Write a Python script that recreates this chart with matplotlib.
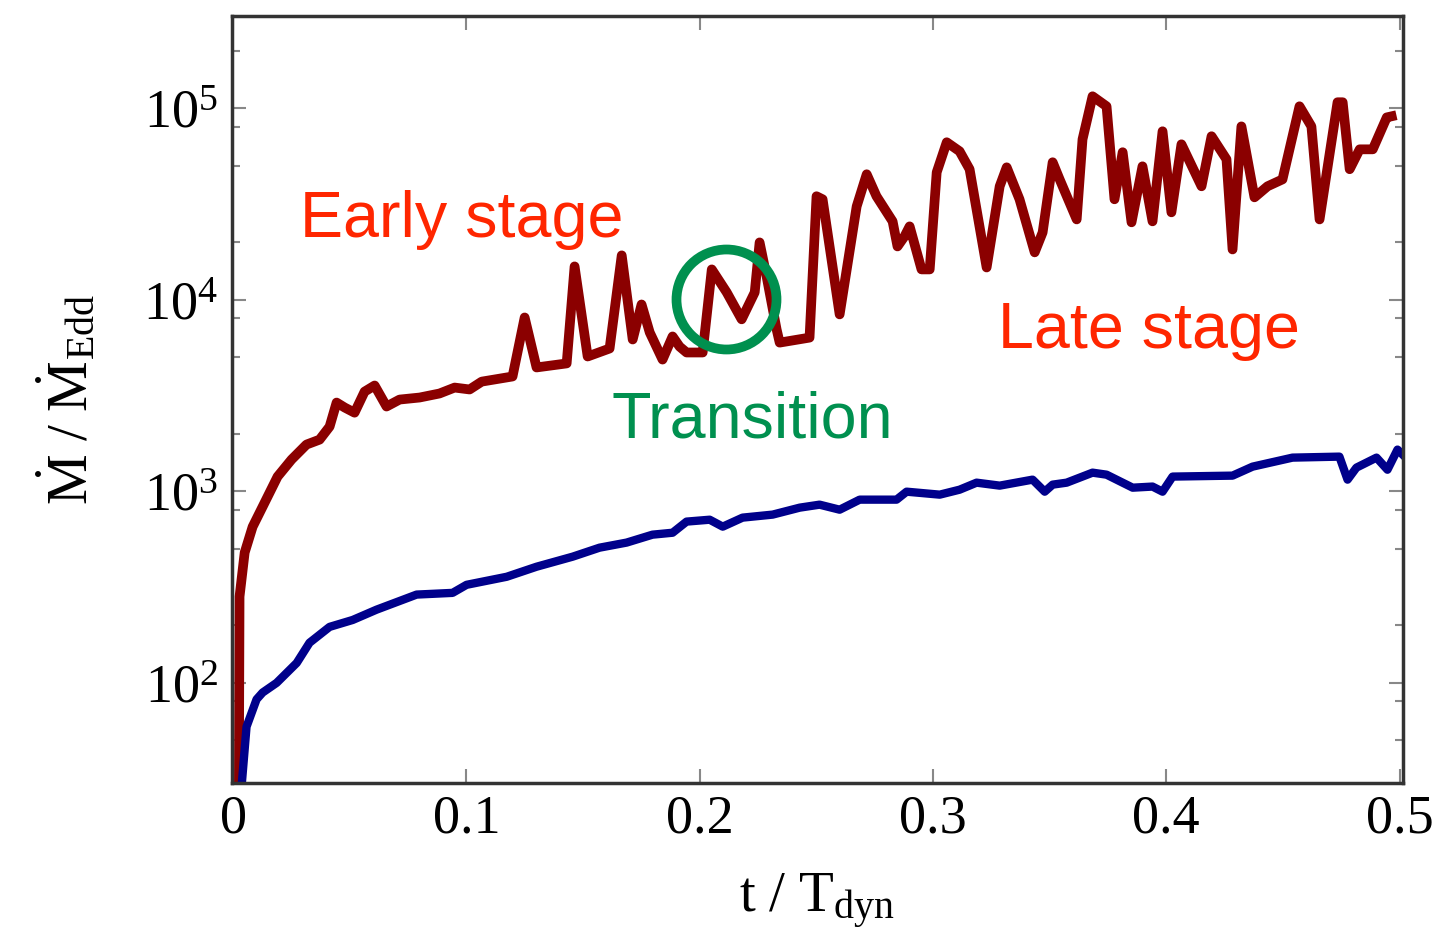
import matplotlib
matplotlib.use("Agg")
import matplotlib.pyplot as plt
from matplotlib.ticker import FixedLocator, FuncFormatter, LogLocator, NullFormatter
import numpy as np


# accretion rate, strong-feedback-free run (red)
T_RED = [0.0025, 0.0028, 0.0050, 0.0084, 0.0127, 0.0191, 0.0251, 0.0315, 0.0371, 0.0414,
         0.0444, 0.0479, 0.0521, 0.0564, 0.0607, 0.0658, 0.0714, 0.0800, 0.0885, 0.0950,
         0.1014, 0.1066, 0.1198, 0.1250, 0.1301, 0.1430, 0.1464, 0.1520, 0.1614, 0.1666,
         0.1713, 0.1751, 0.1786, 0.1841, 0.1884, 0.1914, 0.1944, 0.2013, 0.2052, 0.2116,
         0.2180, 0.2236, 0.2257, 0.2287, 0.2330, 0.2343, 0.2471, 0.2501, 0.2527, 0.2600,
         0.2673, 0.2716, 0.2758, 0.2827, 0.2848, 0.2878, 0.2900, 0.2951, 0.2986, 0.3016,
         0.3059, 0.3114, 0.3157, 0.3230, 0.3286, 0.3316, 0.3371, 0.3436, 0.3470, 0.3513,
         0.3543, 0.3616, 0.3641, 0.3684, 0.3744, 0.3778, 0.3813, 0.3851, 0.3898, 0.3941,
         0.3984, 0.4022, 0.4065, 0.4151, 0.4194, 0.4258, 0.4284, 0.4322, 0.4378, 0.4434,
         0.4498, 0.4571, 0.4622, 0.4657, 0.4734, 0.4756, 0.4786, 0.4829, 0.4885, 0.4945,
         0.4966]
MDOT_RED = [25, 282, 479, 653, 832, 1194, 1466, 1755, 1862, 2178,
            2908, 2738, 2575, 3318, 3570, 2773, 3015, 3090, 3243, 3483,
            3404, 3741, 3979, 8090, 4436, 4656, 14950, 5060, 5570, 17070,
            6209, 9460, 6760, 4877, 6440, 5700, 5310, 5310, 14420, 10940,
            7910, 10940, 19950, 13250, 7000, 5980, 6350, 34750, 33500, 8395,
            30760, 45260, 34750, 25700, 19010, 21440, 24190, 14420, 14420, 46340,
            66500, 59700, 48100, 14760, 39170, 49200, 33500, 17700, 22500, 52300,
            42560, 26300, 68900, 115600, 102500, 33500, 59000, 25400, 49800, 25700,
            75900, 28640, 64900, 39170, 71500, 54200, 18330, 80500, 34300, 39170,
            42560, 102500, 80500, 26300, 107600, 107600, 48100, 61100, 61100, 89700,
            90900]

# accretion rate, second run (blue)
T_BLUE = [0.0038, 0.0058, 0.0101, 0.0127, 0.0187, 0.0273, 0.0328, 0.0414, 0.0513, 0.0615,
          0.0787, 0.0941, 0.1001, 0.1173, 0.1301, 0.1456, 0.1571, 0.1687, 0.1798, 0.1884,
          0.1944, 0.2043, 0.2099, 0.2184, 0.2313, 0.2429, 0.2514, 0.2600, 0.2686, 0.2844,
          0.2887, 0.3029, 0.3114, 0.3187, 0.3286, 0.3427, 0.3479, 0.3513, 0.3573, 0.3684,
          0.3744, 0.3856, 0.3941, 0.3984, 0.4027, 0.4284, 0.4370, 0.4541, 0.4742, 0.4777,
          0.4815, 0.4901, 0.4948, 0.4991, 0.5013]
MDOT_BLUE = [30, 59, 82, 89, 100, 127, 162, 196, 213, 241,
             289, 295, 325, 358, 404, 456, 508, 540, 594, 608,
             695, 711, 654, 729, 756, 822, 852, 802, 905, 905,
             996, 961, 1020, 1110, 1071, 1151, 996, 1084, 1110, 1252,
             1222, 1045, 1059, 996, 1194, 1208, 1346, 1500, 1518, 1151,
             1330, 1500, 1297, 1652, 1556]

X_TICKS = [0, 0.1, 0.2, 0.3, 0.4, 0.5]
Y_MAJOR = [1e2, 1e3, 1e4, 1e5]

# transition marker position
TRANSITION_T = 0.2114
TRANSITION_MDOT = 10050

RED_LINE = "#8b0000"
BLUE_LINE = "#00008b"
RED_TEXT = "#ff2600"
GREEN_TEXT = "#00904f"


def setup_fonts() -> None:
    plt.rcParams["font.family"] = ["Liberation Serif", "DejaVu Serif"]
    plt.rcParams["mathtext.fontset"] = "custom"
    plt.rcParams["mathtext.rm"] = "Liberation Serif"
    plt.rcParams["mathtext.it"] = "Liberation Serif:italic"
    plt.rcParams["mathtext.bf"] = "Liberation Serif:bold"


def main() -> None:
    setup_fonts()
    fig = plt.figure(figsize=(14.49, 9.34), dpi=100)
    ax = fig.add_axes([0.160, 0.1617, 0.808, 0.8213])

    ax.plot(T_RED, MDOT_RED, color=RED_LINE, lw=7, solid_joinstyle="round")
    ax.plot(T_BLUE, MDOT_BLUE, color=BLUE_LINE, lw=6, solid_joinstyle="round")

    # green ring around the transition
    ax.plot([TRANSITION_T], [TRANSITION_MDOT], marker="o", ms=72, mfc="none",
            mec=GREEN_TEXT, mew=7, ls="none")

    ax.set_yscale("log")
    ax.set_xlim(-0.0005, 0.5013)
    ax.set_ylim(30, 3.04e5)

    ax.xaxis.set_major_locator(FixedLocator(X_TICKS))
    ax.xaxis.set_major_formatter(FuncFormatter(lambda v, p: "0" if v == 0 else f"{v:g}"))
    ax.yaxis.set_major_locator(FixedLocator(Y_MAJOR))
    ax.yaxis.set_minor_locator(LogLocator(base=10, subs=[2, 5, 8]))
    ax.yaxis.set_minor_formatter(NullFormatter())

    ax.tick_params(which="both", direction="in", top=True, right=True,
                   color="#888888", labelsize=39)
    ax.tick_params(which="major", length=10, width=1.5)
    ax.tick_params(which="minor", length=6, width=1.5)
    ax.tick_params(axis="x", pad=8)
    ax.tick_params(axis="y", pad=10)
    for sp in ax.spines.values():
        sp.set_linewidth(2.5)
        sp.set_color("#333333")

    ax.set_xlabel(r"$\mathrm{t\ /\ T_{dyn}}$", fontsize=41)
    ax.set_ylabel(r"$\dot{\mathrm{M}}\ /\ \dot{\mathrm{M}}_{\mathrm{Edd}}$", fontsize=41)
    ax.xaxis.set_label_coords(0.5, -0.115)
    ax.yaxis.set_label_coords(-0.113, 0.5)

    sans = ["Liberation Sans", "DejaVu Sans"]
    ax.text(0.058, 0.712, "Early stage", transform=ax.transAxes, color=RED_TEXT,
            fontsize=46.5, family=sans, va="baseline", ha="left")
    ax.text(0.654, 0.567, "Late stage", transform=ax.transAxes, color=RED_TEXT,
            fontsize=46.5, family=sans, va="baseline", ha="left")
    ax.text(0.3245, 0.450, "Transition", transform=ax.transAxes, color=GREEN_TEXT,
            fontsize=46.5, family=sans, va="baseline", ha="left")

    fig.savefig("out.png", dpi=100)
    plt.close(fig)


if __name__ == "__main__":
    main()
